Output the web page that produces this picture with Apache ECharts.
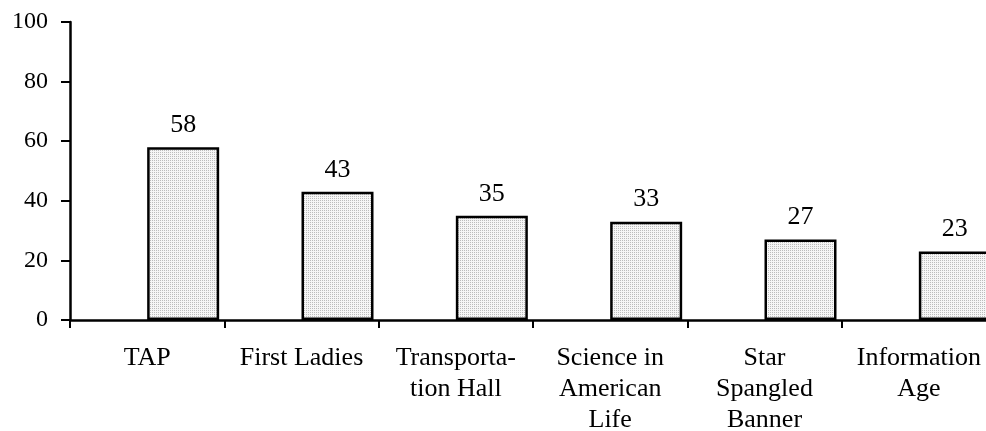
<!DOCTYPE html>
<html>
<head>
<meta charset="utf-8">
<script src="https://cdn.jsdelivr.net/npm/echarts@6/dist/echarts.min.js"></script>
<style>
  html, body { margin: 0; padding: 0; background: #fff; }
  #chart { width: 986px; height: 431px; }
</style>
</head>
<body>
<div id="chart"></div>
<script>
// Exhibits and their percentages
const categories = [
  'TAP',
  'First Ladies',
  'Transporta-\ntion Hall',
  'Science in\nAmerican\nLife',
  'Star\nSpangled\nBanner',
  'Information\nAge'
];
const values = [58, 43, 35, 33, 27, 23];
const yTicks = { min: 0, max: 100, interval: 20 };

// Fine dotted fill for the bars
function dotPattern() {
  const c = document.createElement('canvas');
  c.width = 2; c.height = 2;
  const g = c.getContext('2d');
  g.fillStyle = '#f6f6f6';
  g.fillRect(0, 0, 2, 2);
  g.fillStyle = '#bcbcbc';
  g.fillRect(0, 0, 1, 1);
  return c;
}

const font = 'Liberation Serif';
const chart = echarts.init(document.getElementById('chart'), null, { renderer: 'canvas' });

chart.setOption({
  animation: false,
  backgroundColor: '#ffffff',
  grid: {
    left: 70, top: 22, width: 926, height: 298,
    containLabel: false,
    outerBoundsMode: 'none'
  },
  xAxis: {
    type: 'category',
    data: categories,
    boundaryGap: true,
    axisLine: { lineStyle: { color: '#000', width: 2.5 } },
    axisTick: { show: true, length: 8, lineStyle: { color: '#000', width: 2 }, alignWithLabel: false },
    axisLabel: {
      interval: 0,
      color: '#000',
      fontFamily: font,
      fontSize: 26,
      lineHeight: 31,
      margin: 23
    },
    splitLine: { show: false }
  },
  yAxis: {
    type: 'value',
    min: yTicks.min,
    max: yTicks.max,
    interval: yTicks.interval,
    axisLine: { show: true, lineStyle: { color: '#000', width: 2.5 } },
    axisTick: { show: true, length: 9, lineStyle: { color: '#000', width: 2 } },
    axisLabel: { color: '#000', fontFamily: font, fontSize: 24, margin: 22 },
    splitLine: { show: false }
  },
  series: [
    {
      // empty companion series: keeps each bar in the right half of its slot
      type: 'bar',
      data: categories.map(() => '-'),
      barWidth: 72,
      barGap: '0%',
      silent: true
    },
    {
      type: 'bar',
      data: values,
      barWidth: 72,
      barGap: '0%',
      itemStyle: {
        color: { image: dotPattern(), repeat: 'repeat' },
        borderColor: '#000',
        borderWidth: 2.5
      },
      label: {
        show: true,
        position: 'top',
        distance: 9,
        color: '#000',
        fontFamily: font,
        fontSize: 26
      }
    }
  ]
});
</script>
</body>
</html>
